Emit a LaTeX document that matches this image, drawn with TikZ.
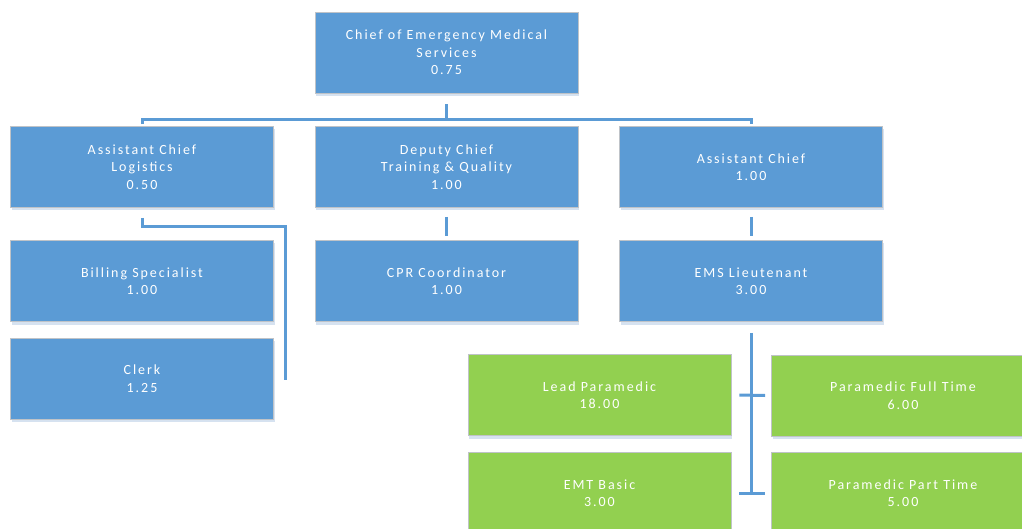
\documentclass[tikz,border=0pt]{standalone}
\usepackage{fontspec}
\setmainfont{Carlito}[LetterSpace=14]
\usetikzlibrary{calc,shadows}
\definecolor{boxblue}{HTML}{5B9BD5}
\definecolor{boxgreen}{HTML}{92D050}
\definecolor{linkblue}{HTML}{5B9BD5}
\definecolor{edgegray}{HTML}{BFC3C8}
\definecolor{haze}{HTML}{D6E2F0}
\tikzset{
  unit/.style={draw=edgegray, line width=0.9pt, minimum width=263pt, minimum height=81pt,
    text=white, align=center, inner sep=2pt,
    font=\fontsize{14}{17.5}\selectfont,
    general shadow={fill=haze, shadow xshift=1pt, shadow yshift=-3pt}},
  bluebox/.style={unit, fill=boxblue},
  greenbox/.style={unit, fill=boxgreen},
  conn/.style={draw=linkblue, line width=3pt}
}
\begin{document}
\begin{tikzpicture}[x=1pt,y=-1pt]
\useasboundingbox (0,0) rectangle (1022,529);
\clip (0,0) rectangle (1022,529);

% top level
\node[bluebox] (chief) at (446.5,52.5) {Chief of Emergency Medical\\Services\\0.75};

% second level
\node[bluebox] (log) at (142,167) {Assistant Chief\\Logistics\\0.50};
\node[bluebox] (dep) at (446.5,167) {Deputy Chief\\Training \& Quality\\1.00};
\node[bluebox] (ac)  at (751,167) {Assistant Chief\\1.00};

% third level
\node[bluebox] (bill)  at (142,281) {Billing Specialist\\1.00};
\node[bluebox] (clerk) at (142,378.5) {Clerk\\1.25};
\node[bluebox] (cpr)   at (446.5,281) {CPR Coordinator\\1.00};
\node[bluebox] (lt)    at (751,281) {EMS Lieutenant\\3.00};

% field staff
\node[greenbox] (lead) at (599.5,395) {Lead Paramedic\\18.00};
\node[greenbox] (emt)  at (599.5,493) {EMT Basic\\3.00};
\node[greenbox] (pft)  at (903,395.5) {Paramedic Full Time\\6.00};
\node[greenbox] (ppt)  at (903,493) {Paramedic Part Time\\5.00};

% connectors
\draw[conn] ($(chief.south)+(0,11)$) -- ($(dep.north)+(0,-7)$);
\draw[conn] ($(log.north)+(0,-2)$) -- ($(log.north)+(0,-7)$) -| ($(ac.north)+(0,-2)$);
\draw[conn] ($(dep.south)+(0,9)$) -- ($(cpr.north)+(0,-4)$);
\draw[conn] ($(ac.south)+(0,9)$) -- ($(lt.north)+(0,-4)$);

\coordinate (railend) at (285,380);
\draw[conn] ($(log.south)+(0,10)$) -- ++(0,9) -| (railend);

\draw[conn] ($(lt.south)+(0,11)$) -- (lt.south |- emt.east);
\draw[conn] ($(lead.east)+(8,0)$) -- ($(pft.west)+(-6,0)$);
\draw[conn] ($(emt.east)+(8,0)$) -- ($(ppt.west)+(-6,0)$);
\end{tikzpicture}
\end{document}
